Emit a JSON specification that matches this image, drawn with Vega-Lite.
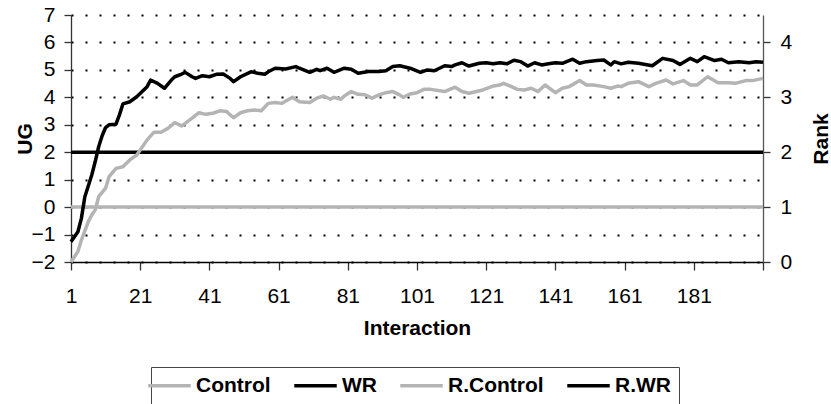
{
  "$schema": "https://vega.github.io/schema/vega-lite/v6.json",
  "width": 692,
  "height": 247,
  "autosize": "none",
  "padding": {"left": 71, "top": 15, "right": 68, "bottom": 142},
  "background": "white",
  "config": {
    "view": {"stroke": null},
    "font": "Liberation Sans",
    "axis": {"labelFontSize": 21, "labelColor": "#000", "titleFontSize": 21, "titleFontWeight": "bold", "titleColor": "#000", "tickColor": "#333", "domainColor": "#333", "domainWidth": 1.3, "tickWidth": 1.3},
    "legend": {"orient": "none", "legendX": 80, "legendY": 352, "direction": "horizontal", "title": null, "symbolType": "M-2.5,0H2.5", "symbolSize": 289, "labelFontSize": 21, "labelFontWeight": "bold", "labelColor": "#000", "labelOffset": 16, "columnPadding": 16, "padding": 8, "strokeColor": "#444", "fillColor": "white"}
  },
  "datasets": {
    "rank": [
      {"s": "R.Control", "i": 1, "r": 1}, {"s": "R.Control", "i": 201, "r": 1},
      {"s": "R.WR", "i": 1, "r": 2}, {"s": "R.WR", "i": 201, "r": 2}
    ],
    "ug": [
      {"s": "Control", "i": 1, "v": -2.0}, {"s": "Control", "i": 3, "v": -1.62}, {"s": "Control", "i": 4, "v": -1.2}, {"s": "Control", "i": 6, "v": -0.53}, {"s": "Control", "i": 7, "v": -0.29}, {"s": "Control", "i": 8, "v": -0.1}, {"s": "Control", "i": 9, "v": 0.38}, {"s": "Control", "i": 11, "v": 0.69}, {"s": "Control", "i": 12, "v": 1.11}, {"s": "Control", "i": 14, "v": 1.41}, {"s": "Control", "i": 16, "v": 1.47}, {"s": "Control", "i": 18, "v": 1.72}, {"s": "Control", "i": 20, "v": 1.9}, {"s": "Control", "i": 21, "v": 2.08}, {"s": "Control", "i": 23, "v": 2.45}, {"s": "Control", "i": 25, "v": 2.73}, {"s": "Control", "i": 27, "v": 2.73}, {"s": "Control", "i": 29, "v": 2.87}, {"s": "Control", "i": 31, "v": 3.08}, {"s": "Control", "i": 33, "v": 2.96}, {"s": "Control", "i": 34, "v": 3.05}, {"s": "Control", "i": 36, "v": 3.24}, {"s": "Control", "i": 38, "v": 3.44}, {"s": "Control", "i": 40, "v": 3.38}, {"s": "Control", "i": 42, "v": 3.42}, {"s": "Control", "i": 44, "v": 3.51}, {"s": "Control", "i": 46, "v": 3.48}, {"s": "Control", "i": 47, "v": 3.36}, {"s": "Control", "i": 48, "v": 3.26}, {"s": "Control", "i": 50, "v": 3.44}, {"s": "Control", "i": 52, "v": 3.51}, {"s": "Control", "i": 54, "v": 3.54}, {"s": "Control", "i": 56, "v": 3.51}, {"s": "Control", "i": 58, "v": 3.78}, {"s": "Control", "i": 60, "v": 3.81}, {"s": "Control", "i": 62, "v": 3.78}, {"s": "Control", "i": 64, "v": 3.93}, {"s": "Control", "i": 65, "v": 4.0}, {"s": "Control", "i": 67, "v": 3.84}, {"s": "Control", "i": 70, "v": 3.81}, {"s": "Control", "i": 72, "v": 3.97}, {"s": "Control", "i": 74, "v": 4.05}, {"s": "Control", "i": 76, "v": 3.93}, {"s": "Control", "i": 77, "v": 4.0}, {"s": "Control", "i": 79, "v": 3.93}, {"s": "Control", "i": 80, "v": 4.05}, {"s": "Control", "i": 82, "v": 4.21}, {"s": "Control", "i": 84, "v": 4.11}, {"s": "Control", "i": 86, "v": 4.09}, {"s": "Control", "i": 88, "v": 3.97}, {"s": "Control", "i": 90, "v": 4.09}, {"s": "Control", "i": 92, "v": 4.17}, {"s": "Control", "i": 94, "v": 4.21}, {"s": "Control", "i": 96, "v": 4.09}, {"s": "Control", "i": 97, "v": 4.0}, {"s": "Control", "i": 99, "v": 4.12}, {"s": "Control", "i": 101, "v": 4.17}, {"s": "Control", "i": 103, "v": 4.29}, {"s": "Control", "i": 105, "v": 4.29}, {"s": "Control", "i": 109, "v": 4.21}, {"s": "Control", "i": 112, "v": 4.37}, {"s": "Control", "i": 114, "v": 4.21}, {"s": "Control", "i": 116, "v": 4.15}, {"s": "Control", "i": 120, "v": 4.27}, {"s": "Control", "i": 123, "v": 4.41}, {"s": "Control", "i": 125, "v": 4.45}, {"s": "Control", "i": 126, "v": 4.51}, {"s": "Control", "i": 128, "v": 4.41}, {"s": "Control", "i": 130, "v": 4.29}, {"s": "Control", "i": 132, "v": 4.27}, {"s": "Control", "i": 134, "v": 4.33}, {"s": "Control", "i": 136, "v": 4.21}, {"s": "Control", "i": 138, "v": 4.45}, {"s": "Control", "i": 141, "v": 4.17}, {"s": "Control", "i": 143, "v": 4.33}, {"s": "Control", "i": 145, "v": 4.39}, {"s": "Control", "i": 148, "v": 4.61}, {"s": "Control", "i": 150, "v": 4.45}, {"s": "Control", "i": 152, "v": 4.45}, {"s": "Control", "i": 155, "v": 4.39}, {"s": "Control", "i": 157, "v": 4.33}, {"s": "Control", "i": 159, "v": 4.41}, {"s": "Control", "i": 160, "v": 4.39}, {"s": "Control", "i": 162, "v": 4.51}, {"s": "Control", "i": 165, "v": 4.57}, {"s": "Control", "i": 168, "v": 4.39}, {"s": "Control", "i": 170, "v": 4.51}, {"s": "Control", "i": 173, "v": 4.63}, {"s": "Control", "i": 175, "v": 4.49}, {"s": "Control", "i": 178, "v": 4.61}, {"s": "Control", "i": 180, "v": 4.45}, {"s": "Control", "i": 182, "v": 4.45}, {"s": "Control", "i": 185, "v": 4.75}, {"s": "Control", "i": 188, "v": 4.53}, {"s": "Control", "i": 191, "v": 4.53}, {"s": "Control", "i": 193, "v": 4.51}, {"s": "Control", "i": 196, "v": 4.61}, {"s": "Control", "i": 198, "v": 4.61}, {"s": "Control", "i": 201, "v": 4.69},
      {"s": "WR", "i": 1, "v": -1.26}, {"s": "WR", "i": 3, "v": -0.9}, {"s": "WR", "i": 4, "v": -0.41}, {"s": "WR", "i": 5, "v": 0.38}, {"s": "WR", "i": 7, "v": 1.17}, {"s": "WR", "i": 8, "v": 1.66}, {"s": "WR", "i": 9, "v": 2.2}, {"s": "WR", "i": 10, "v": 2.6}, {"s": "WR", "i": 11, "v": 2.9}, {"s": "WR", "i": 12, "v": 3.0}, {"s": "WR", "i": 14, "v": 3.02}, {"s": "WR", "i": 15, "v": 3.36}, {"s": "WR", "i": 16, "v": 3.76}, {"s": "WR", "i": 18, "v": 3.84}, {"s": "WR", "i": 20, "v": 4.02}, {"s": "WR", "i": 23, "v": 4.39}, {"s": "WR", "i": 24, "v": 4.63}, {"s": "WR", "i": 26, "v": 4.51}, {"s": "WR", "i": 28, "v": 4.33}, {"s": "WR", "i": 30, "v": 4.63}, {"s": "WR", "i": 31, "v": 4.75}, {"s": "WR", "i": 33, "v": 4.85}, {"s": "WR", "i": 34, "v": 4.91}, {"s": "WR", "i": 36, "v": 4.75}, {"s": "WR", "i": 37, "v": 4.69}, {"s": "WR", "i": 39, "v": 4.79}, {"s": "WR", "i": 41, "v": 4.75}, {"s": "WR", "i": 43, "v": 4.84}, {"s": "WR", "i": 45, "v": 4.85}, {"s": "WR", "i": 47, "v": 4.69}, {"s": "WR", "i": 48, "v": 4.57}, {"s": "WR", "i": 50, "v": 4.75}, {"s": "WR", "i": 53, "v": 4.93}, {"s": "WR", "i": 55, "v": 4.88}, {"s": "WR", "i": 57, "v": 4.84}, {"s": "WR", "i": 58, "v": 4.93}, {"s": "WR", "i": 60, "v": 5.06}, {"s": "WR", "i": 63, "v": 5.03}, {"s": "WR", "i": 66, "v": 5.12}, {"s": "WR", "i": 67, "v": 5.06}, {"s": "WR", "i": 70, "v": 4.91}, {"s": "WR", "i": 72, "v": 5.02}, {"s": "WR", "i": 73, "v": 4.97}, {"s": "WR", "i": 75, "v": 5.06}, {"s": "WR", "i": 77, "v": 4.91}, {"s": "WR", "i": 80, "v": 5.06}, {"s": "WR", "i": 82, "v": 5.02}, {"s": "WR", "i": 84, "v": 4.88}, {"s": "WR", "i": 87, "v": 4.94}, {"s": "WR", "i": 90, "v": 4.94}, {"s": "WR", "i": 92, "v": 4.97}, {"s": "WR", "i": 94, "v": 5.12}, {"s": "WR", "i": 96, "v": 5.15}, {"s": "WR", "i": 99, "v": 5.06}, {"s": "WR", "i": 102, "v": 4.91}, {"s": "WR", "i": 104, "v": 5.0}, {"s": "WR", "i": 106, "v": 4.97}, {"s": "WR", "i": 109, "v": 5.15}, {"s": "WR", "i": 111, "v": 5.12}, {"s": "WR", "i": 112, "v": 5.18}, {"s": "WR", "i": 114, "v": 5.26}, {"s": "WR", "i": 116, "v": 5.14}, {"s": "WR", "i": 119, "v": 5.24}, {"s": "WR", "i": 121, "v": 5.26}, {"s": "WR", "i": 123, "v": 5.22}, {"s": "WR", "i": 125, "v": 5.26}, {"s": "WR", "i": 127, "v": 5.22}, {"s": "WR", "i": 129, "v": 5.35}, {"s": "WR", "i": 131, "v": 5.3}, {"s": "WR", "i": 133, "v": 5.14}, {"s": "WR", "i": 135, "v": 5.26}, {"s": "WR", "i": 137, "v": 5.18}, {"s": "WR", "i": 139, "v": 5.22}, {"s": "WR", "i": 141, "v": 5.26}, {"s": "WR", "i": 143, "v": 5.24}, {"s": "WR", "i": 146, "v": 5.39}, {"s": "WR", "i": 148, "v": 5.24}, {"s": "WR", "i": 150, "v": 5.3}, {"s": "WR", "i": 153, "v": 5.34}, {"s": "WR", "i": 155, "v": 5.36}, {"s": "WR", "i": 157, "v": 5.18}, {"s": "WR", "i": 158, "v": 5.3}, {"s": "WR", "i": 160, "v": 5.22}, {"s": "WR", "i": 162, "v": 5.28}, {"s": "WR", "i": 165, "v": 5.24}, {"s": "WR", "i": 169, "v": 5.15}, {"s": "WR", "i": 172, "v": 5.42}, {"s": "WR", "i": 175, "v": 5.34}, {"s": "WR", "i": 177, "v": 5.2}, {"s": "WR", "i": 180, "v": 5.42}, {"s": "WR", "i": 182, "v": 5.3}, {"s": "WR", "i": 184, "v": 5.48}, {"s": "WR", "i": 187, "v": 5.34}, {"s": "WR", "i": 189, "v": 5.39}, {"s": "WR", "i": 191, "v": 5.26}, {"s": "WR", "i": 194, "v": 5.3}, {"s": "WR", "i": 197, "v": 5.26}, {"s": "WR", "i": 199, "v": 5.3}, {"s": "WR", "i": 201, "v": 5.28}
    ]
  },
  "layer": [
    {
      "data": {"name": "rank"},
      "mark": {"type": "line"},
      "encoding": {
        "x": {"field": "i", "type": "quantitative", "scale": {"domain": [1, 201], "nice": false, "zero": false},
          "axis": {"values": [1, 11, 21, 31, 41, 51, 61, 71, 81, 91, 101, 111, 121, 131, 141, 151, 161, 171, 181, 191, 201], "labelExpr": "(datum.value - 1) % 20 == 0 && datum.value < 200 ? datum.label : ''", "grid": false, "tickSize": 8, "labelPadding": 15, "domainColor": "#000", "title": "Interaction", "titleY": 66, "titleBaseline": "middle", "labelFlush": false, "labelOverlap": false}},
        "y": {"field": "r", "type": "quantitative", "scale": {"domain": [0, 4.5], "nice": false, "zero": false},
          "axis": {"orient": "right", "values": [0, 1, 2, 3, 4], "grid": false, "tickSize": 7, "labelPadding": 10, "title": "Rank", "titleAngle": -90, "titleX": 58, "titleY": 123.5, "titleAlign": "center", "titleBaseline": "middle", "domainColor": "#555"}},
        "color": {"field": "s", "type": "nominal",
          "scale": {"domain": ["Control", "WR", "R.Control", "R.WR"], "range": ["#b4b4b4", "#000000", "#b4b4b4", "#000000"]}},
        "strokeWidth": {"field": "s", "type": "nominal",
          "scale": {"domain": ["Control", "WR", "R.Control", "R.WR"], "range": [3.5, 3.5, 2, 2]}}
      }
    },
    {
      "data": {"name": "ug"},
      "mark": {"type": "line", "strokeJoin": "round"},
      "encoding": {
        "x": {"field": "i", "type": "quantitative"},
        "y": {"field": "v", "type": "quantitative", "scale": {"domain": [-2, 7], "nice": false, "zero": false},
          "axis": {"orient": "left", "values": [-2, -1, 0, 1, 2, 3, 4, 5, 6, 7], "grid": true, "gridColor": "#000", "gridDash": [2, 12], "gridWidth": 2, "tickSize": 7, "labelPadding": 9, "title": "UG", "titleAngle": -90, "titleX": -46, "titleY": 123.5, "titleAlign": "center", "titleBaseline": "middle"}},
        "color": {"field": "s", "type": "nominal"},
        "strokeWidth": {"field": "s", "type": "nominal"}
      }
    }
  ],
  "resolve": {"scale": {"y": "independent"}}
}
